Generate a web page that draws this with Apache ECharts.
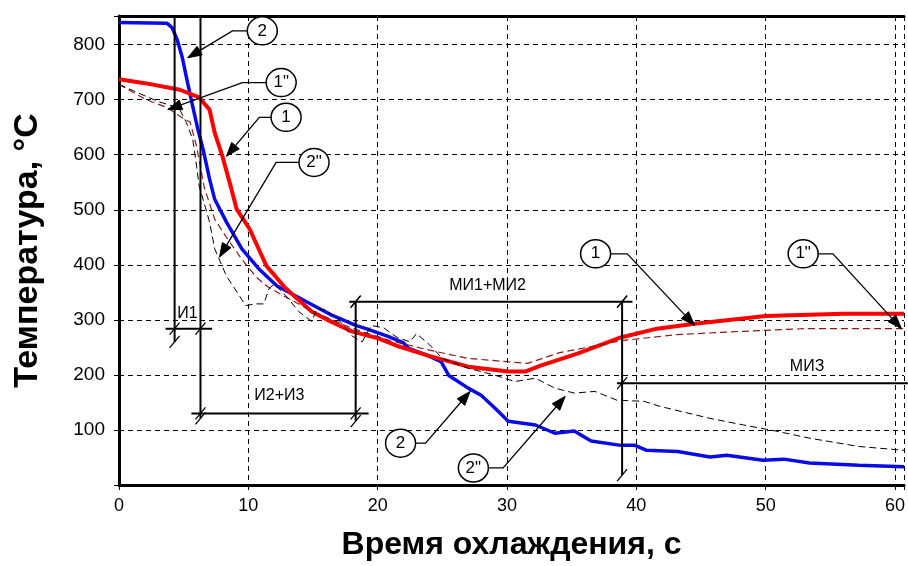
<!DOCTYPE html>
<html><head><meta charset="utf-8">
<script src="https://cdn.jsdelivr.net/npm/echarts@6/dist/echarts.min.js"></script>
<style>html,body{margin:0;padding:0;background:#fff}#c{width:908px;height:566px}</style>
</head><body><div id="c"></div>
<script>
// ---- data (time s, temperature °C) ----
const curve2 = [[0,840],[3.7,839],[4.1,831],[4.5,809],[4.9,776],[5.3,731],[5.7,688],[6.1,646],[6.5,610],[7.0,556],[7.4,519],[8.3,478],[9.5,429],[10.8,393],[12.2,362],[14.5,333],[16.5,308],[18.3,290],[19.1,284],[20.8,270],[22.0,258],[22.4,248],[23.9,235],[24.9,224],[25.5,199],[27.0,176],[28.0,163],[29.1,139],[30.1,116],[32.2,109],[33.7,94],[35.2,98],[36.5,80],[38.8,72],[39.9,72],[40.8,63],[43.2,61],[45.7,51],[47.0,54],[49.8,45],[51.4,47],[53.4,40],[57.2,36],[60.7,33]];
const curve1 = [[0,737],[2,730],[4.7,718],[6.2,704],[7.0,682],[7.4,640],[8.0,597],[8.7,537],[9.1,501],[10.1,465],[11.4,398],[12.9,357],[14.9,315],[16.2,299],[18.0,279],[20.1,266],[21.6,252],[23.9,235],[27.0,215],[30.1,206],[31.4,206],[32.6,217],[35.5,239],[38.8,268],[41.6,284],[44.5,293],[50,307],[56,311],[60.7,311]];
const curve1b = [[0,728],[1.1,713],[2.1,700],[3.7,686],[4.7,670],[5.5,659],[6.0,615],[6.6,540],[7.4,483],[8.3,450],[9.5,410],[10.6,378],[11.5,360],[13,340],[15,315],[18,285],[21,262],[24,245],[27,230],[30,224],[31.6,221],[34,240],[38.8,262],[43,273],[48,279],[53,284],[60.7,284]];
const curve2b = [[0,728],[1.5,712],[3,697],[4.2,688],[4.7,682],[5.2,659],[5.7,628],[6.0,579],[6.2,543],[6.5,519],[7.0,478],[7.4,429],[8.3,380],[9.3,344],[9.8,326],[10.6,329],[11.2,329],[11.6,357],[12.0,365],[12.9,344],[13.9,315],[14.9,297],[15.3,320],[16.0,318],[17.0,300],[18.0,271],[18.8,260],[19.5,290],[20.5,285],[21.5,268],[22.5,260],[23,275],[24,255],[25,230],[27,212],[29,200],[30.6,188],[32.2,194],[33.7,176],[35.2,167],[36.8,170],[38.5,154],[40.6,152],[41.8,143],[45.7,121],[48.3,109],[50.8,98],[53.4,85],[57.2,70],[60.7,63]];

const xTicks = [0,10,20,30,40,50,60];
const yTicks = [100,200,300,400,500,600,700,800];

// ---- annotations in data units ----
// vertical dimension lines: [t, Tfrom, Tto]
const vLines = [[4.3,852,260],[6.3,852,121],[18.3,333,116],[38.9,333,18]];
const hDims = [
  {T:284, from:3.6, to:7.2, ticks:[4.3,6.3], label:'И1', lt:5.3, lT:311},
  {T:130, from:5.6, to:19.3, ticks:[6.3,18.3], label:'И2+И3', lt:12.4, lT:163},
  {T:333, from:17.8, to:39.7, ticks:[18.3,38.9], label:'МИ1+МИ2', lt:28.5, lT:362},
  {T:185, from:38.5, to:61, ticks:[38.9], label:'МИЗ', lt:53.2, lT:215}
];
const callouts = [
  {text:'2',  c:[11.08,825], e:[8.77,825], tip:[5.31,776], side:-1},
  {text:'1"', c:[12.54,731], e:[9.54,731], tip:[3.77,682], side:-1},
  {text:'1',  c:[12.92,668], e:[10.85,668], tip:[8.31,597], side:-1},
  {text:'2"', c:[15.08,586], e:[12.15,586], tip:[7.77,414], side:-1},
  {text:'1',  c:[36.85,420], e:[39.3,420], tip:[44.5,290], side:1},
  {text:'1"', c:[52.9,420], e:[55.2,420], tip:[60.5,284], side:1},
  {text:'2',  c:[21.77,76], e:[23.7,76], tip:[27.15,170], side:1},
  {text:'2"', c:[27.4,31], e:[29.7,31], tip:[34.5,161], side:1}
];

const chart = echarts.init(document.getElementById('c'), null, {renderer:'canvas'});
const font = 'Liberation Sans, Arial, sans-serif';
const option = {
  animation:false,
  backgroundColor:'#fff',
  grid:{left:119, top:16, right:0, bottom:79, containLabel:false},
  xAxis:[{
    type:'value', min:0, max:60.7, interval:10,
    name:'Время охлаждения, с', nameLocation:'middle', nameGap:44,
    nameTextStyle:{fontFamily:font, fontWeight:'bold', fontSize:32, color:'#000'},
    axisLine:{show:true, onZero:false, lineStyle:{color:'#000', width:3}},
    axisTick:{show:true, length:5, lineStyle:{color:'#000', width:1}},
    axisLabel:{fontFamily:font, fontSize:18, color:'#000', margin:12, showMaxLabel:true,
      formatter:v=> xTicks.indexOf(v)>=0 ? String(v) : ''},
    splitLine:{show:true, lineStyle:{color:'#000', width:1, type:[5,4]}}
  },{
    type:'value', position:'top', min:0, max:60.7,
    axisLine:{show:true, onZero:false, lineStyle:{color:'#000', width:3}},
    axisTick:{show:false}, axisLabel:{show:false}, splitLine:{show:false}
  }],
  yAxis:{
    type:'value', min:0, max:852, interval:100,
    name:'Температура, °C', nameLocation:'middle', nameGap:74, nameRotate:90,
    nameTextStyle:{fontFamily:font, fontWeight:'bold', fontSize:34, color:'#000'},
    axisLine:{show:true, onZero:false, lineStyle:{color:'#000', width:3}},
    axisTick:{show:true, length:5, lineStyle:{color:'#000', width:1}},
    axisLabel:{fontFamily:font, fontSize:19, color:'#000', margin:14,
      formatter:v=> yTicks.indexOf(v)>=0 ? String(v) : ''},
    splitLine:{show:true, lineStyle:{color:'#000', width:1, type:[5,4]}}
  },
  series:[
    {type:'line', name:'2', data:curve2, showSymbol:false, lineStyle:{color:'#0a0ae6', width:3.5}, z:3},
    {type:'line', name:'1', data:curve1, showSymbol:false, lineStyle:{color:'#ff0000', width:4}, z:4},
    {type:'line', name:'1"', data:curve1b, showSymbol:false, lineStyle:{color:'#8b1a1a', width:1.2, type:[7,4]}, z:5},
    {type:'line', name:'2"', data:curve2b, showSymbol:false, lineStyle:{color:'#000', width:1, type:[7,4]}, z:5}
  ]
};
chart.setOption(option);

function px(p){ return chart.convertToPixel({xAxisIndex:0, yAxisIndex:0}, p); }
const g = [];
function seg(a,b,w){ g.push({type:'line', z:20, shape:{x1:a[0],y1:a[1],x2:b[0],y2:b[1]}, style:{stroke:'#000', lineWidth:w}}); }
function slash(p){ seg([p[0]-5,p[1]+6],[p[0]+5,p[1]-6],1.3); }
function label(p,t,size,z){ g.push({type:'text', z:z||21, x:p[0], y:p[1], style:{text:t, font:size+'px '+font, fill:'#000', align:'center', verticalAlign:'middle'}}); }

vLines.forEach(v=>{ seg(px([v[0],v[1]]), px([v[0],v[2]]), 2); });
hDims.forEach(d=>{
  seg(px([d.from,d.T]), px([d.to,d.T]), 2);
  d.ticks.forEach(t=>slash(px([t,d.T])));
  label(px([d.lt,d.lT]), d.label, 16);
});
vLines.forEach(v=>{ if(v[1]<852) slash(px([v[0],v[1]])); slash(px([v[0],v[2]])); });

callouts.forEach(c=>{
  const cc = px(c.c), e = px(c.e), tip = px(c.tip);
  const r = 15;
  const start = [cc[0] + c.side*r, cc[1]];
  const dx = tip[0]-e[0], dy = tip[1]-e[1], L = Math.hypot(dx,dy);
  const ux = dx/L, uy = dy/L, al = 14, aw = 5;
  const base = [tip[0]-ux*al, tip[1]-uy*al];
  g.push({type:'polyline', z:20, shape:{points:[start,e,base]}, style:{stroke:'#000', lineWidth:1.3, fill:null}});
  g.push({type:'polygon', z:21, shape:{points:[tip,[base[0]-uy*aw, base[1]+ux*aw],[base[0]+uy*aw, base[1]-ux*aw]]}, style:{fill:'#000', stroke:'#000', lineWidth:1}});
  g.push({type:'ellipse', z:22, shape:{cx:cc[0], cy:cc[1], rx:15, ry:14}, style:{fill:'#fff', stroke:'#000', lineWidth:1.5}});
  label(cc, c.text, 17, 23);
});
chart.setOption({graphic:g});
</script></body></html>
